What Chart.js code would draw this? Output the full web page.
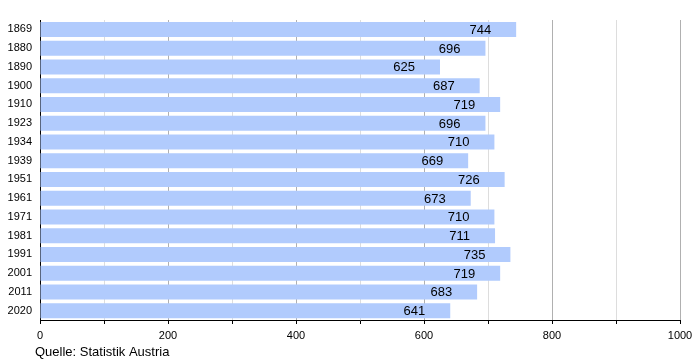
<!DOCTYPE html>
<html>
<head>
<meta charset="utf-8">
<script src="https://cdn.jsdelivr.net/npm/chart.js@4"></script>
<style>
  body { margin: 0; background: #fff; }
</style>
</head>
<body>
<canvas id="myChart" width="700" height="360"></canvas>
<script>
'use strict';

let years = ['1869', '1880', '1890', '1900', '1910', '1923', '1934', '1939',
  '1951', '1961', '1971', '1981', '1991', '2001', '2011', '2020'];
let population = [744, 696, 625, 687, 719, 696, 710, 669,
  726, 673, 710, 711, 735, 719, 683, 641];
let tickLabels = [0, 200, 400, 600, 800, 1000];
let source = 'Quelle: Statistik Austria';

const ctx = document.getElementById('myChart').getContext('2d');
Chart.defaults.font.family = '"Liberation Sans", Arial, sans-serif';
Chart.defaults.color = '#000';

// value labels inside the bar ends
const valueLabels = {
  id: 'valueLabels',
  afterDatasetsDraw(chart) {
    let c = chart.ctx;
    let meta = chart.getDatasetMeta(0);
    c.save();
    c.font = '13px "Liberation Sans", Arial, sans-serif';
    c.fillStyle = '#000';
    c.textAlign = 'right';
    c.textBaseline = 'middle';
    meta.data.forEach((bar, i) => {
      c.fillText(population[i], bar.x - 25, bar.y + 1);
    });
    c.restore();
  }
};

// footnote under the axis
const footnote = {
  id: 'footnote',
  afterDraw(chart) {
    let c = chart.ctx;
    c.save();
    c.font = '13px "Liberation Sans", Arial, sans-serif';
    c.fillStyle = '#000';
    c.textAlign = 'left';
    c.textBaseline = 'middle';
    c.fillText(source, 35, 352);
    c.restore();
  }
};

const myChart = new Chart(ctx, {
  type: 'bar',
  data: {
    labels: years,
    datasets: [{
      data: population,
      backgroundColor: '#b1cbfd',
      borderWidth: 0,
      barPercentage: 0.8,
      categoryPercentage: 1.0
    }]
  },
  options: {
    indexAxis: 'y',
    responsive: false,
    animation: false,
    layout: { padding: { top: 20, right: 20, left: 0, bottom: 0 } },
    plugins: {
      legend: { display: false },
      tooltip: { enabled: false }
    },
    scales: {
      x: {
        min: 0,
        max: 1000,
        afterFit(scale) { scale.height = 40; },
        border: { color: '#000', width: 1 },
        grid: {
          color: (c) => (c.tick && c.tick.value % 200 === 0) ? '#b0b0b0' : '#dddddd',
          tickColor: '#000',
          tickLength: 4
        },
        ticks: {
          stepSize: 100,
          maxRotation: 0,
          autoSkip: false,
          padding: 5,
          font: { size: 11 },
          callback: (v) => tickLabels.includes(v) ? String(v) : ''
        }
      },
      y: {
        afterFit(scale) { scale.width = 40; },
        border: { color: '#000', width: 1 },
        grid: { display: false, drawTicks: false },
        ticks: { padding: 8, font: { size: 11 } }
      }
    }
  },
  plugins: [valueLabels, footnote]
});
</script>
</body>
</html>
